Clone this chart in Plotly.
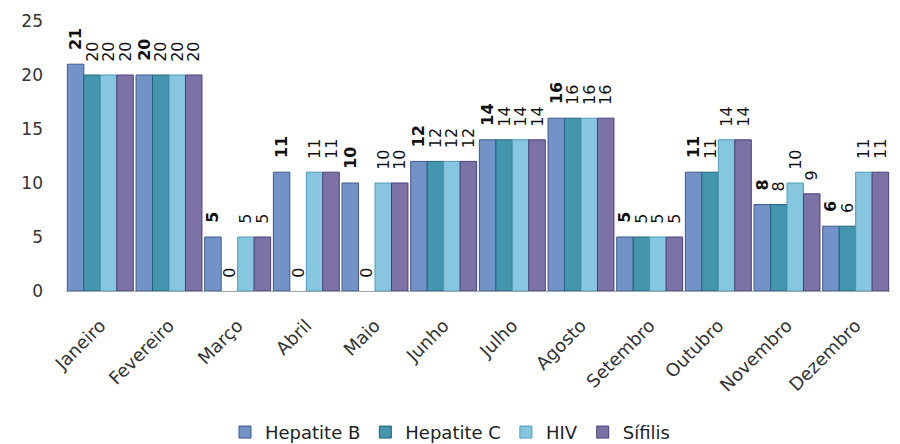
import plotly.graph_objects as go

meses = ["Janeiro", "Fevereiro", "Março", "Abril", "Maio", "Junho", "Julho",
         "Agosto", "Setembro", "Outubro", "Novembro", "Dezembro"]
hep_b = [21, 20, 5, 11, 10, 12, 14, 16, 5, 11, 8, 6]
hep_c = [20, 20, 0, 0, 0, 12, 14, 16, 5, 11, 8, 6]
hiv = [20, 20, 5, 11, 10, 12, 14, 16, 5, 14, 10, 11]
sifilis = [20, 20, 5, 11, 10, 12, 14, 16, 5, 14, 9, 11]

series = [
    ("Hepatite B", hep_b, "#7393c8", "#3d5a8c", "bold"),
    ("Hepatite C", hep_c, "#4496ae", "#24627a", "normal"),
    ("HIV", hiv, "#86c6df", "#4f9bbb", "normal"),
    ("Sífilis", sifilis, "#7d72a6", "#4b3f78", "normal"),
]

PAD = "\u00a0\u00a0"

fig = go.Figure()
for name, vals, color, edge, weight in series:
    fig.add_trace(go.Bar(
        x=meses, y=vals, name=name,
        marker=dict(color=color,
                    line=dict(color=edge, width=[0 if v == 0 else 1 for v in vals])),
        text=[PAD + str(v) for v in vals], textposition="outside", textangle=-90,
        textfont=dict(family="DejaVu Sans", size=16, color="#111111", weight=weight),
        constraintext="none",
        cliponaxis=False,
    ))

fig.update_layout(
    barmode="group", bargap=0.04, bargroupgap=0,
    width=900, height=444,
    margin=dict(l=66, r=10, t=21, b=153, autoexpand=False),
    paper_bgcolor="white", plot_bgcolor="white",
    font=dict(family="DejaVu Sans", size=16, color="#333333"),
    showlegend=True,
    legend=dict(orientation="h", xref="container", x=0.5, xanchor="center",
                y=-0.455, yanchor="top",
                font=dict(family="DejaVu Sans", size=18, color="#222222"),
                traceorder="normal", itemwidth=30),
)
fig.update_xaxes(tickangle=-45, showline=True, linecolor="#9aa5b5", linewidth=1,
                 ticks="", automargin=False, ticklabelstandoff=16,
                 tickfont=dict(family="DejaVu Sans", size=18, color="#333333"))
fig.update_yaxes(range=[0, 25], dtick=5, showgrid=False, zeroline=False,
                 showline=False, ticks="", automargin=False, ticklabelstandoff=22,
                 tickfont=dict(family="DejaVu Sans", size=17, color="#333333"))

fig.write_html("out.html", config={"displayModeBar": False},
               post_script="document.body.style.margin='0';")
